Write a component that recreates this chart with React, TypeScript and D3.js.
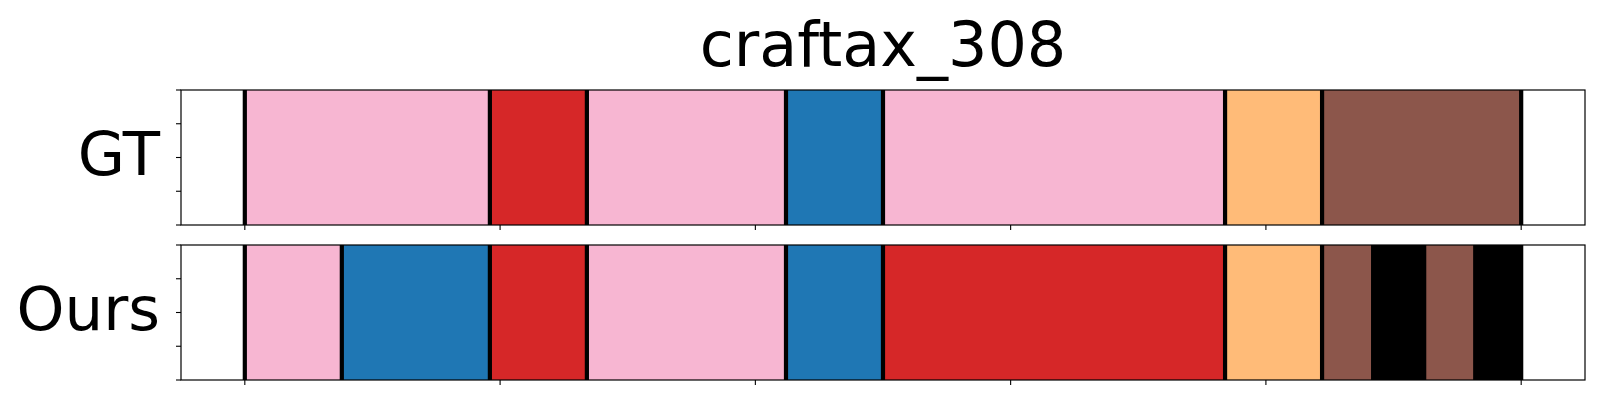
import React from "react";
import * as d3 from "d3";

// segment boundaries (frames) and the class of each segment
const gtBounds = [0, 48, 67, 106, 125, 192, 211, 250];
const gtClasses = ["pink", "red", "pink", "blue", "pink", "orange", "brown"];

const oursBounds = [0, 19, 48, 67, 106, 125, 192, 211, 221, 231, 241, 250];
const oursClasses = ["pink", "blue", "red", "pink", "blue", "red", "orange", "brown", "black", "brown", "black"];

const xTicks = [0, 50, 100, 150, 200, 250];
const yTicks = [0, 0.25, 0.5, 0.75, 1];

const palette: Record<string, string> = {
  pink: "#f7b6d2",
  red: "#d62728",
  blue: "#1f77b4",
  orange: "#ffbb78",
  brown: "#8c564b",
  black: "#000000",
};

const W = 1600;
const H = 400;
const left = 181;
const right = 1585;
const panels = [
  { name: "GT", bounds: gtBounds, classes: gtClasses, top: 90, bottom: 225 },
  { name: "Ours", bounds: oursBounds, classes: oursClasses, top: 245, bottom: 380 },
];

const font = "DejaVu Sans, sans-serif";

const Panel = ({ p, x }: { p: (typeof panels)[number]; x: d3.ScaleLinear<number, number> }) => {
  const y = d3.scaleLinear().domain([0, 1]).range([p.bottom, p.top]);
  const segs = p.classes.map((c, i) => ({ c, x0: p.bounds[i], x1: p.bounds[i + 1] }));
  const mid = (p.top + p.bottom) / 2;
  return (
    <g>
      {segs.map((s, i) => (
        <rect
          key={i}
          x={x(s.x0)}
          y={p.top}
          width={x(s.x1) - x(s.x0)}
          height={p.bottom - p.top}
          fill={palette[s.c]}
        />
      ))}
      {p.bounds.map((b, i) => (
        <line key={"b" + i} x1={x(b)} x2={x(b)} y1={p.top} y2={p.bottom} stroke="#000" strokeWidth={4.2} />
      ))}
      <rect
        x={left}
        y={p.top}
        width={right - left}
        height={p.bottom - p.top}
        fill="none"
        stroke="#000"
        strokeWidth={1.2}
      />
      {yTicks.map((t) => (
        <line key={"y" + t} x1={left - 5} x2={left} y1={y(t)} y2={y(t)} stroke="#000" strokeWidth={1.1} />
      ))}
      {xTicks.map((t) => (
        <line key={"x" + t} x1={x(t)} x2={x(t)} y1={p.bottom} y2={p.bottom + 5} stroke="#000" strokeWidth={1.1} />
      ))}
      <text x={160} y={mid + 17} textAnchor="end" fontFamily={font} fontSize={61} fill="#000">
        {p.name}
      </text>
    </g>
  );
};

export default function App() {
  const x = d3.scaleLinear().domain([-12.5, 262.5]).range([left, right]);
  return (
    <svg
      width={W}
      height={H}
      viewBox={`0 0 ${W} ${H}`}
      style={{ position: "absolute", left: 0, top: 0, background: "#fff" }}
    >
      <rect width={W} height={H} fill="#fff" />
      <text x={(left + right) / 2} y={66} textAnchor="middle" fontFamily={font} fontSize={62} fill="#000">
        craftax_308
      </text>
      {panels.map((p) => (
        <Panel key={p.name} p={p} x={x} />
      ))}
    </svg>
  );
}
